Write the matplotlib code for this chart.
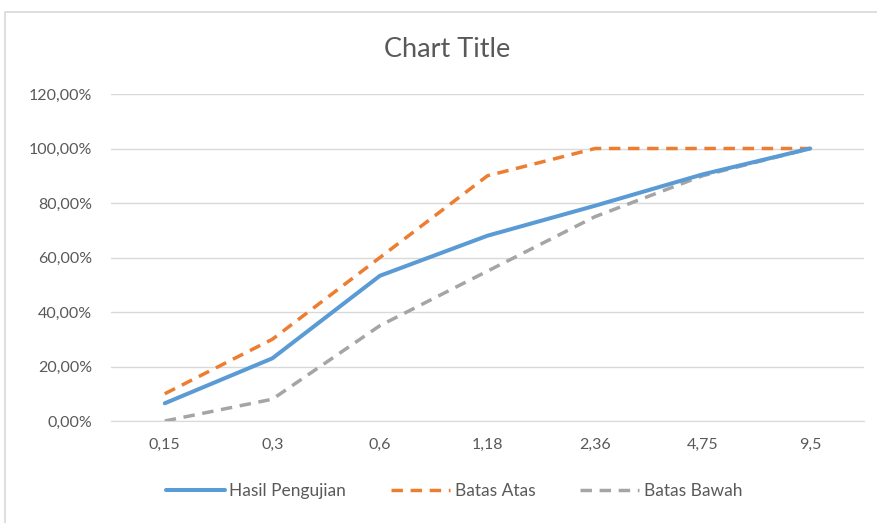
import numpy as np
import matplotlib.pyplot as plt
from matplotlib.patches import Rectangle

# ukuran saringan dan persentase lolos
ayakan = ['0,15', '0,3', '0,6', '1,18', '2,36', '4,75', '9,5']
hasil_pengujian = [6.5, 23, 53.3, 68, 79, 90.5, 100]
batas_atas = [10, 30, 60, 90, 100, 100, 100]
batas_bawah = [0, 8, 35, 55, 75, 90, 100]

plt.rcParams['font.family'] = ['Lato', 'DejaVu Sans']
abu = '#595959'

fig = plt.figure(figsize=(8.78, 5.23), dpi=100)
ax = fig.add_axes([111 / 878, 1 - 421 / 523, (864 - 111) / 878, (421 - 94) / 523])

# bingkai area chart
fig.patches.append(Rectangle((5 / 878, -0.02), 1.0, 1 - 12 / 523 + 0.02,
                             transform=fig.transFigure, fill=False,
                             edgecolor='#D9D9D9', linewidth=1.2))

x = np.arange(len(ayakan))
ax.plot(x, hasil_pengujian, color='#5B9BD5', lw=2.9, label='Hasil Pengujian',
        solid_capstyle='round', zorder=4)
ax.plot(x, batas_atas, color='#ED7D31', lw=2.5, ls=(0, (3.3, 2.2)), label='Batas Atas', zorder=3)
ax.plot(x, batas_bawah, color='#A5A5A5', lw=2.5, ls=(0, (3.3, 2.2)), label='Batas Bawah', zorder=3)

ax.set_xlim(-0.5, len(ayakan) - 0.5)
ax.set_ylim(0, 120)
yt = np.arange(0, 121, 20)
ax.set_yticks(yt)
ax.set_yticklabels([f'{v:.2f}%'.replace('.', ',') for v in yt])
ax.set_xticks(x)
ax.set_xticklabels(ayakan)
ax.grid(axis='y', color='#D9D9D9', lw=1)
ax.set_axisbelow(True)
for s in ['top', 'right', 'left']:
    ax.spines[s].set_visible(False)
ax.spines['bottom'].set_color('#D9D9D9')
ax.tick_params(axis='both', length=0, colors=abu, labelsize=11.5)
ax.tick_params(axis='y', pad=13.5)
ax.tick_params(axis='x', pad=12)

fig.text(447 / 878, 1 - 49 / 523, 'Chart Title', ha='center', va='center',
         fontsize=19.5, color=abu)

fig.legend(loc='center', bbox_to_anchor=(454 / 878, 1 - 491 / 523), ncol=3,
           frameon=False, fontsize=12.5, labelcolor=abu, handlelength=3.4,
           columnspacing=2.6, handletextpad=0.25)

fig.savefig('out.png', dpi=100)
